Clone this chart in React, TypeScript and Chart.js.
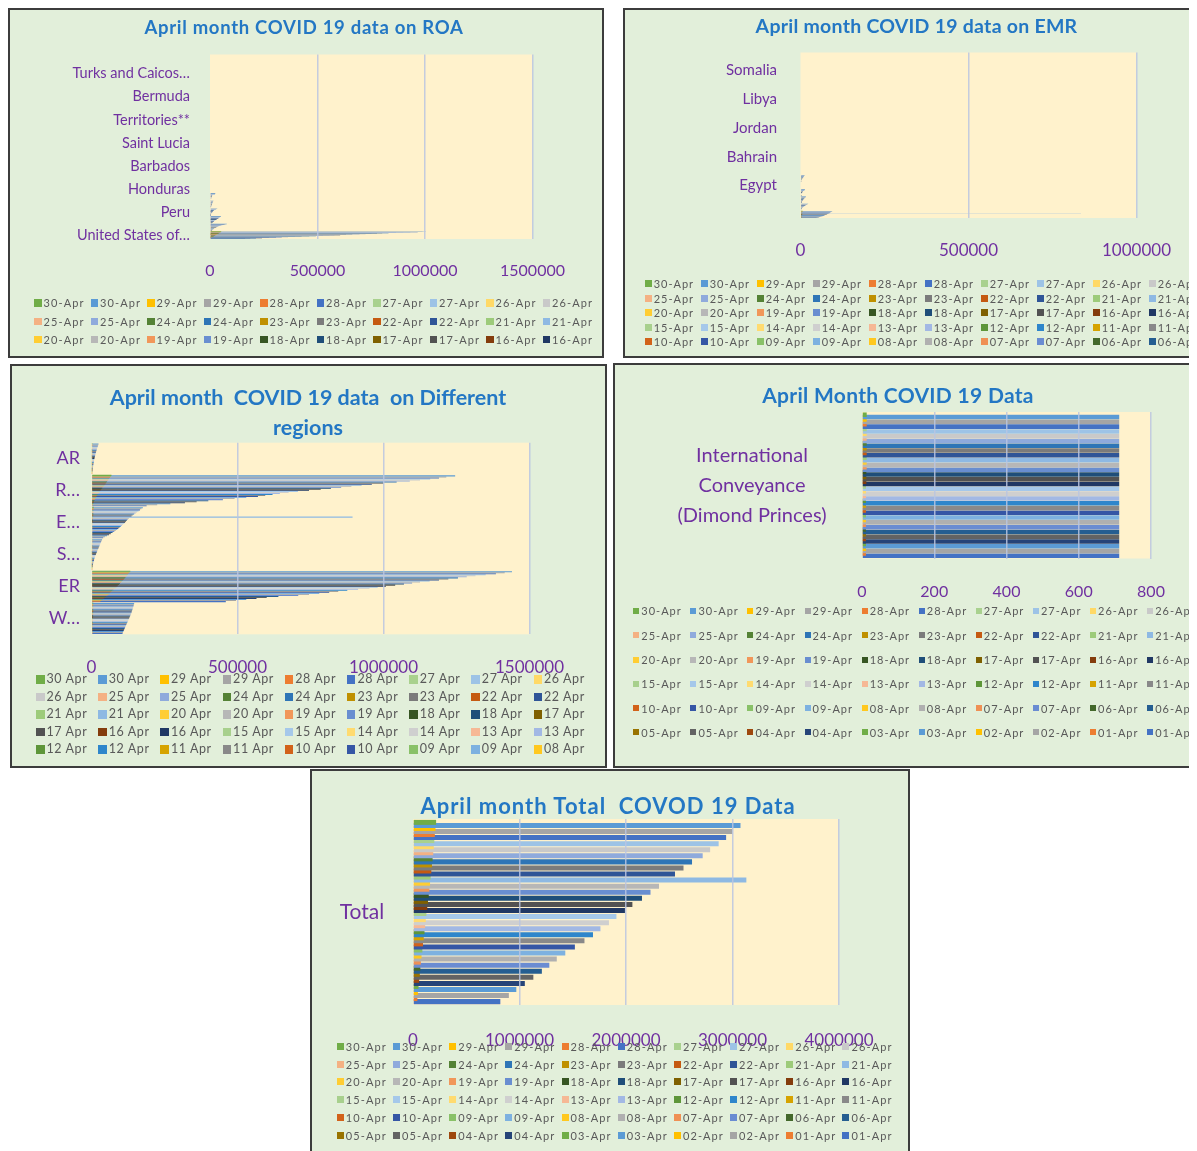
import React, { useEffect, useRef } from "react";
import { Chart, registerables } from "chart.js";

Chart.register(...registerables);

const FONT = "Lato, 'Open Sans', 'DejaVu Sans', sans-serif";
const PURPLE = "#7030a0";
const TITLE_BLUE = "#2377c4";
const PANEL_BG = "#e2efda";
const PLOT_BG = "#fff2cc";
const GRID = "rgba(186,197,224,0.85)";
const LEGEND_TEXT = "#595959";

// ---------- shared ----------
const dates = [
  "30-Apr", "29-Apr", "28-Apr", "27-Apr", "26-Apr", "25-Apr", "24-Apr", "23-Apr", "22-Apr", "21-Apr",
  "20-Apr", "19-Apr", "18-Apr", "17-Apr", "16-Apr", "15-Apr", "14-Apr", "13-Apr", "12-Apr", "11-Apr",
  "10-Apr", "09-Apr", "08-Apr", "07-Apr", "06-Apr", "05-Apr", "04-Apr", "03-Apr", "02-Apr", "01-Apr",
];

const seriesColors = [
  "#70AD47", "#5B9BD5", "#FFC000", "#A5A5A5", "#ED7D31", "#4472C4",
  "#A9D18E", "#9DC3E6", "#FFD966", "#C9C9C9", "#F4B183", "#8FAADC",
  "#548235", "#2E75B6", "#BF9000", "#7B7B7B", "#C55A11", "#2F5597",
  "#9DCB7A", "#8EB9E3", "#FFCD33", "#B7B7B7", "#F1975A", "#698ED0",
  "#375623", "#1F4E79", "#7F6000", "#525252", "#843C0C", "#203864",
  "#A8D08D", "#A5C8EA", "#FFDB70", "#CFCFCF", "#F6B895", "#A2B8E4",
  "#5E9639", "#2E86CB", "#D6A300", "#898989", "#D2621A", "#3556A5",
  "#89C168", "#7DB1E0", "#FFC81F", "#B0B0B0", "#EF9054", "#6A8CD2",
  "#43682B", "#255E91", "#997300", "#636363", "#9E480E", "#264478",
  "#70AD47", "#5B9BD5", "#FFC000", "#A5A5A5", "#ED7D31", "#4472C4",
];

// ---------- chart 1: ROA ----------
const roaCategories = [
  "Anguilla", "British Virgin Islands", "Turks and Caicos Islands", "Curaçao", "Aruba", "Bermuda",
  "Cayman Islands", "Puerto Rico", "Territories**", "Dominica", "Grenada", "Saint Lucia",
  "Trinidad and Tobago", "Jamaica", "Barbados", "Guatemala", "Bolivia", "Honduras",
  "Ecuador", "Chile", "Peru", "Canada", "Brazil", "United States of America",
];
const roaTickLabels = [
  "", "", "Turks and Caicos…", "", "", "Bermuda",
  "", "", "Territories**", "", "", "Saint Lucia",
  "", "", "Barbados", "", "", "Honduras",
  "", "", "Peru", "", "", "United States of…",
];
const roaUsCases = [1003974, 988451, 965933, 931698, 899281, 865585, 830053, 800926, 776907, 751273, 723605, 695353, 661712, 632781, 605390, 579005, 554849, 525704, 492416, 461437, 425889, 395030, 363321, 333811, 307318, 273808, 241703, 213600, 187302, 163199];
const roaUsDeaths = [52459, 50492, 50031, 47980, 46784, 44575, 42514, 40549, 37602, 35884, 34203, 32427, 30844, 28529, 24969, 22252, 21972, 20389, 18777, 16686, 14695, 12740, 10335, 9536, 7616, 7159, 5926, 4854, 3875, 2875];
const roaBrazilCases = [78162, 71886, 66501, 61888, 58509, 52995, 49492, 45757, 43079, 40581, 38654, 36599, 33682, 30425, 28320, 25262, 23430, 20727, 19638, 18397, 17857, 15927, 13717, 12056, 11130, 10278, 8066, 7910, 6836, 5717];
const roaCanadaCases = [51150, 49616, 48033, 46371, 44919, 43286, 40824, 40179, 38422, 36823, 34356, 32813, 30809, 29425, 27035, 25680, 23318, 22148, 20765, 19141, 17897, 16563, 15806, 14426, 13882, 12924, 11283, 9560, 8527, 7398];
const roaPeruCases = [33931, 31190, 28699, 27517, 25331, 21648, 19250, 17837, 16325, 15628, 14420, 13489, 12491, 11475, 10303, 9784, 7519, 6848, 5897, 5256, 4342, 3947, 2954, 2561, 2281, 1746, 1595, 1414, 1323, 1065];
const roaChileCases = [16023, 15135, 14365, 13813, 13331, 12858, 12306, 11812, 11296, 10832, 10507, 10088, 9730, 9252, 8807, 8273, 7917, 7525, 7213, 6927, 6501, 5972, 5546, 5116, 4815, 4471, 3737, 3404, 3031, 2738];
const roaEcuadorCases = [24675, 24258, 23240, 22719, 22160, 22160, 11183, 10850, 10398, 10128, 9468, 9022, 8450, 8225, 7858, 7603, 7529, 7466, 7257, 7161, 6468, 4965, 4575, 3747, 3646, 3465, 3368, 2758, 2302, 2240];

// ---------- chart 2: EMR ----------
const emrCategories = [
  "occupied Palestinian territory", "Territories**", "Somalia", "Yemen", "Syrian Arab Republic", "Sudan",
  "Libya", "Lebanon", "Tunisia", "Djibouti", "Jordan", "Afghanistan", "Iraq", "Oman", "Bahrain",
  "Morocco", "Kuwait", "United Arab Emirates", "Egypt", "Qatar", "Pakistan", "Saudi Arabia",
  "Iran (Islamic Republic of)",
];
const emrTickLabels = [
  "", "", "Somalia", "", "", "", "Libya", "", "", "", "Jordan", "", "", "", "Bahrain",
  "", "", "", "Egypt", "", "", "", "",
];
const emrIranCases = [94640, 93657, 92584, 91472, 90481, 89328, 88194, 87026, 85996, 835050, 83505, 82211, 80868, 79494, 77995, 76389, 74877, 73303, 71686, 70029, 68192, 66220, 64586, 62589, 60500, 58226, 55743, 53183, 50468, 47593];
const emrIranDeaths = [6028, 5957, 5877, 5806, 5710, 5650, 5574, 5481, 5391, 5297, 5209, 5118, 5031, 4958, 4869, 4777, 4683, 4585, 4474, 4357, 4232, 4110, 3993, 3872, 3739, 3603, 3452, 3294, 3160, 3036];
const emrSaudiCases = [22753, 21402, 20077, 18811, 17522, 16299, 15102, 13930, 12772, 11631, 10484, 9362, 8274, 7142, 6380, 5862, 5369, 4934, 4462, 4033, 3651, 3287, 2932, 2752, 2605, 2370, 2179, 2039, 1885, 1720];
const emrPakistanCases = [16117, 15525, 14612, 13915, 13328, 12657, 11940, 11155, 10513, 9749, 9216, 8418, 7993, 7638, 7025, 6505, 6383, 5988, 5374, 4892, 4788, 4601, 4072, 3864, 3766, 3157, 2880, 2708, 2421, 2118];
const emrQatarCases = [13409, 12564, 11921, 11244, 10287, 9358, 8525, 7764, 7141, 6533, 6015, 5448, 5008, 4663, 4103, 3711, 3428, 3231, 2979, 2728, 2512, 2376, 2210, 2057, 1832, 1604, 1325, 1075, 949, 781];
const emrUaeCases = [12481, 11929, 11380, 10839, 10349, 9813, 9281, 8756, 8238, 7755, 7265, 6781, 6302, 5825, 5365, 4933, 4521, 4123, 3736, 3360, 2990, 2659, 2359, 2076, 1799, 1505, 1264, 1024, 814, 664];

// ---------- chart 3: regions ----------
const regCategories = [
  "African Region", "Region of the Americas", "Eastern Mediterranean Region",
  "South-East Asia Region", "European Region", "Western Pacific Region",
];
const regTickLabels = ["AR", "R…", "E…", "S…", "ER", "W…"];
const regAfrCases = [24000, 22900, 21700, 20500, 19300, 18200, 17100, 16000, 15100, 14200, 13300, 12500, 11700, 10900, 10100, 9400, 8700, 8100, 7500, 6900, 6300, 5800, 5300, 4800, 4400, 4000, 3600, 3300, 3000, 2700];
const regAfrDeaths = [1027, 981, 944, 893, 852, 806, 768, 721, 683, 641, 598, 563, 517, 482, 441, 404, 362, 325, 287, 253, 221, 194, 168, 149, 131, 112, 96, 83, 71, 60];
const regAmrCases = [1245354, 1215000, 1190000, 1160000, 1125000, 1090000, 1045000, 1000000, 960000, 925000, 890000, 855000, 820000, 785000, 745000, 707000, 675000, 645000, 620000, 595000, 570000, 530000, 490000, 450000, 400000, 360000, 320000, 270000, 225000, 188751];
const regAmrDeaths = [68329, 66000, 63500, 60500, 58600, 56500, 53400, 51000, 48600, 45300, 42500, 40000, 37300, 34700, 32000, 29100, 26400, 24000, 21400, 19000, 17000, 15000, 13300, 11700, 10400, 8700, 7400, 6100, 4900, 3700];
const regEmrCases = [176000, 171000, 166000, 161000, 156000, 151000, 146000, 141000, 137000, 894000, 128000, 124000, 121000, 118000, 115000, 112000, 108000, 104000, 100000, 96000, 92000, 88000, 83000, 78000, 72000, 66000, 60000, 53000, 46000, 40000];
const regEmrDeaths = [7350, 7180, 7010, 6840, 6660, 6470, 6290, 6100, 5910, 5700, 5500, 5290, 5080, 4870, 4660, 4440, 4230, 4010, 3800, 3590, 3390, 3190, 3000, 2820, 2650, 2500, 2340, 2190, 2050, 1920];
const regSearCases = [36200, 34700, 32900, 31400, 29700, 28400, 26700, 25200, 23900, 22100, 20900, 19200, 17900, 16300, 15100, 13500, 12400, 11000, 10100, 8900, 8200, 7100, 6400, 5500, 4900, 4200, 3800, 3200, 2900, 2400];
const regSearDeaths = [1870, 1800, 1720, 1630, 1550, 1470, 1390, 1300, 1220, 1140, 1060, 980, 900, 820, 750, 680, 610, 540, 480, 420, 370, 330, 290, 250, 220, 200, 185, 170, 160, 150];
const regEurCases = [1440000, 1415000, 1385000, 1350000, 1315000, 1285000, 1255000, 1222000, 1190000, 1158000, 1125000, 1098000, 1070000, 1040000, 1008000, 980000, 952000, 913000, 876000, 845000, 814000, 780000, 745000, 708000, 640000, 600000, 565000, 530000, 495000, 460000];
const regEurDeaths = [132917, 130000, 127000, 124500, 122000, 119500, 116200, 113300, 110300, 107000, 103500, 100500, 97500, 94000, 90000, 86000, 82000, 78500, 75000, 70300, 66000, 62500, 58500, 55000, 50000, 46000, 42000, 38000, 34000, 30100];
const regWprCases = [146000, 145000, 144100, 143000, 142000, 141000, 140000, 138800, 137500, 136200, 135000, 133600, 132100, 130500, 129000, 127600, 126000, 124400, 122700, 121000, 119500, 118000, 116500, 115000, 113500, 112000, 110500, 109000, 107500, 106400];
const regWprDeaths = [6008, 5989, 5951, 5912, 5883, 5836, 5791, 5748, 5695, 5633, 5571, 5512, 5425, 5327, 5233, 5137, 5048, 4932, 4845, 4711, 4600, 4498, 4388, 4253, 4117, 3976, 3920, 3846, 3784, 3701];

// ---------- chart 4: international conveyance ----------
const intlCategories = ["International Conveyance (Dimond Princes)"];
const intlTickLabels = [["International", "Conveyance", "(Dimond Princes)"]];
const intlCases = [712, 712, 712, 712, 712, 712, 712, 712, 712, 712, 712, 712, 712, 712, 712, 712, 712, 712, 712, 712, 712, 712, 712, 712, 712, 712, 712, 712, 712, 712];
const intlDeaths = [13, 13, 13, 13, 13, 13, 13, 13, 13, 13, 13, 13, 12, 12, 12, 11, 11, 11, 11, 11, 11, 11, 11, 11, 11, 11, 11, 11, 11, 11];

// ---------- chart 5: total ----------
const totalCategories = ["Total"];
const totalTickLabels = ["Total"];
const totalCases = [3075000, 3000000, 2940000, 2870000, 2790000, 2720000, 2620000, 2540000, 2460000, 3130000, 2310000, 2230000, 2150000, 2060000, 1990000, 1910000, 1840000, 1760000, 1690000, 1610000, 1520000, 1430000, 1350000, 1280000, 1210000, 1130000, 1050000, 970000, 900000, 820000];
const totalDeaths = [217000, 211000, 205000, 200000, 195000, 190000, 184000, 178000, 172000, 166000, 160000, 154000, 148000, 141000, 134000, 126000, 120000, 114000, 108000, 101000, 94000, 88000, 80000, 74000, 69000, 64000, 58000, 52000, 46000, 41000];

type Series = { cases?: number[]; deaths?: number[] };
type Table = Record<string, Series>;

const roaTable: Table = {
  "United States of America": { cases: roaUsCases, deaths: roaUsDeaths },
  Brazil: { cases: roaBrazilCases },
  Canada: { cases: roaCanadaCases },
  Peru: { cases: roaPeruCases },
  Chile: { cases: roaChileCases },
  Ecuador: { cases: roaEcuadorCases },
};
const emrTable: Table = {
  "Iran (Islamic Republic of)": { cases: emrIranCases, deaths: emrIranDeaths },
  "Saudi Arabia": { cases: emrSaudiCases },
  Pakistan: { cases: emrPakistanCases },
  Qatar: { cases: emrQatarCases },
  "United Arab Emirates": { cases: emrUaeCases },
};
const regTable: Table = {
  "African Region": { cases: regAfrCases, deaths: regAfrDeaths },
  "Region of the Americas": { cases: regAmrCases, deaths: regAmrDeaths },
  "Eastern Mediterranean Region": { cases: regEmrCases, deaths: regEmrDeaths },
  "South-East Asia Region": { cases: regSearCases, deaths: regSearDeaths },
  "European Region": { cases: regEurCases, deaths: regEurDeaths },
  "Western Pacific Region": { cases: regWprCases, deaths: regWprDeaths },
};
const intlTable: Table = { [intlCategories[0]]: { cases: intlCases, deaths: intlDeaths } };
const totalTable: Table = { Total: { cases: totalCases, deaths: totalDeaths } };

interface PanelSpec {
  box: { left: number; top: number; width: number; height: number };
  title: { lines: string[]; cx: number; cy: number; size: number; gap: number; spacing: number };
  categories: string[];
  table: Table;
  tickLabels: (string | string[])[];
  dateFormat: (d: string) => string;
  xMax: number;
  xStep: number;
  plot: { left: number; top: number; right: number; bottom: number };
  xFont: number;
  xPad: number;
  yFont: number;
  yPad?: number;
  yCenterX?: number;
  yLineHeight?: number;
  barPct: number;
  catPct: number;
  legend: { count: number; cols: number; left: number; cy: number; colW: number; rowH: number; marker: number; font: number; spacing: number };
}

const dash = (d: string) => d;
const spaced = (d: string) => d.replace("-", " ");

const panels: PanelSpec[] = [
  {
    box: { left: 0, top: 0, width: 596, height: 350 },
    title: { lines: ["April month COVID 19 data on ROA"], cx: 294, cy: 18, size: 18.5, gap: 0, spacing: 0.7 },
    categories: roaCategories, table: roaTable, tickLabels: roaTickLabels, dateFormat: dash,
    xMax: 1500000, xStep: 500000,
    plot: { left: 200, top: 44.5, right: 522.5, bottom: 229 },
    xFont: 16, xPad: 22, yFont: 14.5, yPad: 20, barPct: 3, catPct: 0.96,
    legend: { count: 30, cols: 10, left: 24, cy: 293, colW: 56.5, rowH: 18.35, marker: 7.5, font: 11, spacing: 1.1 },
  },
  {
    box: { left: 615, top: 0, width: 600, height: 350 },
    title: { lines: ["April month COVID 19 data on EMR"], cx: 291.5, cy: 16.7, size: 19.5, gap: 0, spacing: 0.25 },
    categories: emrCategories, table: emrTable, tickLabels: emrTickLabels, dateFormat: dash,
    xMax: 1000000, xStep: 500000,
    plot: { left: 175.5, top: 42.5, right: 511.5, bottom: 208 },
    xFont: 17, xPad: 22.5, yFont: 15, yPad: 23.5, barPct: 3, catPct: 0.96,
    legend: { count: 50, cols: 10, left: 19.7, cy: 274, colW: 56, rowH: 14.4, marker: 7, font: 11, spacing: 1 },
  },
  {
    box: { left: 2, top: 356, width: 597, height: 404 },
    title: { lines: ["April month  COVID 19 data  on Different", "regions"], cx: 296, cy: 32, size: 21.5, gap: 30, spacing: 0 },
    categories: regCategories, table: regTable, tickLabels: regTickLabels, dateFormat: spaced,
    xMax: 1500000, xStep: 500000,
    plot: { left: 79.5, top: 76.7, right: 517.5, bottom: 268.3 },
    xFont: 17, xPad: 23.5, yFont: 18, yPad: 11.5, barPct: 2, catPct: 0.97,
    legend: { count: 45, cols: 9, left: 24, cy: 313.3, colW: 62.2, rowH: 17.5, marker: 8.5, font: 12.5, spacing: 0.6 },
  },
  {
    box: { left: 605, top: 355, width: 600, height: 405 },
    title: { lines: ["April Month COVID 19 Data"], cx: 283, cy: 30, size: 21, gap: 0, spacing: 0.3 },
    categories: intlCategories, table: intlTable, tickLabels: intlTickLabels, dateFormat: dash,
    xMax: 800, xStep: 200,
    plot: { left: 247, top: 47, right: 536, bottom: 193.5 },
    xFont: 16, xPad: 24, yFont: 20, yCenterX: 137, yLineHeight: 1.5, barPct: 1.9, catPct: 0.98,
    legend: { count: 60, cols: 10, left: 18.3, cy: 246, colW: 57.1, rowH: 24.3, marker: 6, font: 11, spacing: 1 },
  },
  {
    box: { left: 302, top: 761, width: 600, height: 400 },
    title: { lines: ["April month Total  COVOD 19 Data"], cx: 296, cy: 35.7, size: 22, gap: 0, spacing: 1 },
    categories: totalCategories, table: totalTable, tickLabels: totalTickLabels, dateFormat: dash,
    xMax: 4000000, xStep: 1000000,
    plot: { left: 101, top: 48, right: 527, bottom: 234 },
    xFont: 17, xPad: 25, yFont: 21, yCenterX: 50, barPct: 1.65, catPct: 0.98,
    legend: { count: 60, cols: 10, left: 24.8, cy: 275.3, colW: 56.2, rowH: 17.8, marker: 7, font: 11, spacing: 1.1 },
  },
];

function buildDatasets(spec: PanelSpec) {
  const out: any[] = [];
  dates.forEach((d, k) => {
    (["deaths", "cases"] as const).forEach((s, j) => {
      out.push({
        label: spec.dateFormat(d),
        data: spec.categories.map((c) => {
          const arr = spec.table[c]?.[s];
          return arr ? arr[k] : null;
        }),
        backgroundColor: seriesColors[k * 2 + j],
        borderWidth: 0,
        barPercentage: spec.barPct,
        categoryPercentage: spec.catPct,
      });
    });
  });
  return out;
}

const plotBackground = {
  id: "plotBackground",
  beforeDraw(chart: any) {
    const { ctx, chartArea } = chart;
    if (!chartArea) return;
    ctx.save();
    ctx.fillStyle = PLOT_BG;
    ctx.fillRect(chartArea.left, chartArea.top, chartArea.right - chartArea.left, chartArea.bottom - chartArea.top);
    ctx.restore();
  },
};

function widestLabel(labels: (string | string[])[], size: number): number {
  const ctx = document.createElement("canvas").getContext("2d")!;
  ctx.font = `${size}px ${FONT}`;
  let w = 0;
  labels.forEach((l) => (Array.isArray(l) ? l : [l]).forEach((t) => (w = Math.max(w, ctx.measureText(t).width))));
  return w;
}

function Panel({ spec }: { spec: PanelSpec }) {
  const ref = useRef<HTMLCanvasElement>(null);
  const innerW = spec.box.width - 4;
  const innerH = spec.box.height - 4;
  const datasets = buildDatasets(spec);
  const legendItems = datasets.slice(0, spec.legend.count).map((d) => ({ label: d.label, color: d.backgroundColor }));

  useEffect(() => {
    const centered = spec.yCenterX !== undefined;
    const yPad = centered
      ? spec.plot.left - (spec.yCenterX as number) - widestLabel(spec.tickLabels, spec.yFont) / 2
      : (spec.yPad as number);
    const chart = new Chart(ref.current as HTMLCanvasElement, {
      type: "bar",
      data: { labels: spec.categories, datasets: buildDatasets(spec) },
      plugins: [plotBackground],
      options: {
        indexAxis: "y",
        animation: false,
        responsive: false,
        devicePixelRatio: 1,
        events: [],
        layout: { padding: { top: spec.plot.top, right: innerW - spec.plot.right, bottom: 0, left: 0 } },
        plugins: { legend: { display: false }, title: { display: false }, tooltip: { enabled: false } },
        scales: {
          x: {
            type: "linear",
            min: 0,
            max: spec.xMax,
            ticks: {
              stepSize: spec.xStep,
              color: PURPLE,
              font: { family: FONT, size: spec.xFont },
              padding: spec.xPad,
              maxRotation: 0,
              autoSkip: false,
              callback: (v: any) => String(v),
            },
            grid: {
              color: (c: any) => (c.tick && c.tick.value === 0 ? "rgba(0,0,0,0)" : GRID),
              lineWidth: 1.5,
              drawTicks: false,
              z: 1,
            },
            border: { display: false },
            afterFit: (s: any) => {
              s.height = innerH - spec.plot.bottom;
              s.paddingLeft = 0;
              s.paddingRight = 0;
            },
          },
          y: {
            type: "category",
            ticks: {
              autoSkip: false,
              color: PURPLE,
              font: { family: FONT, size: spec.yFont, lineHeight: spec.yLineHeight ?? 1.2 },
              padding: yPad,
              crossAlign: centered ? "center" : "near",
              callback: (_v: any, i: number) => spec.tickLabels[i],
            },
            grid: { display: false, drawTicks: false },
            border: { display: false },
            afterFit: (s: any) => {
              s.width = spec.plot.left;
              s.paddingTop = 0;
              s.paddingBottom = 0;
            },
          },
        },
      } as any,
    });
    return () => chart.destroy();
  }, [spec]);

  const L = spec.legend;
  return (
    <div
      style={{
        position: "absolute",
        left: spec.box.left,
        top: spec.box.top,
        width: spec.box.width,
        height: spec.box.height,
        boxSizing: "border-box",
        border: "2px solid #3c3c3c",
        background: PANEL_BG,
        overflow: "hidden",
      }}
    >
      <canvas
        ref={ref}
        width={innerW}
        height={innerH}
        style={{ position: "absolute", left: 0, top: 0, width: innerW, height: innerH }}
      />
      {spec.title.lines.map((line, i) => (
        <div
          key={i}
          style={{
            position: "absolute",
            left: spec.title.cx - 300,
            width: 600,
            top: spec.title.cy + i * spec.title.gap - spec.title.size * 0.627,
            textAlign: "center",
            font: `700 ${spec.title.size}px ${FONT}`,
            letterSpacing: spec.title.spacing,
            lineHeight: 1.2,
            color: TITLE_BLUE,
            whiteSpace: "pre",
          }}
        >
          {line}
        </div>
      ))}
      <div
        style={{
          position: "absolute",
          left: L.left,
          top: L.cy - L.rowH / 2,
          display: "grid",
          gridTemplateColumns: `repeat(${L.cols}, ${L.colW}px)`,
          gridAutoRows: `${L.rowH}px`,
          alignItems: "center",
        }}
      >
        {legendItems.map((it, i) => (
          <div key={i} style={{ display: "flex", alignItems: "center", whiteSpace: "nowrap" }}>
            <span style={{ width: L.marker, height: L.marker, background: it.color, marginRight: 2, flex: "none" }} />
            <span style={{ font: `${L.font}px ${FONT}`, letterSpacing: L.spacing, color: LEGEND_TEXT, lineHeight: 1 }}>
              {it.label}
            </span>
          </div>
        ))}
      </div>
    </div>
  );
}

export default function App() {
  useEffect(() => {
    document.documentElement.style.overflow = "hidden";
    document.body.style.overflow = "hidden";
  }, []);
  return (
    <div style={{ position: "relative", width: 1189, height: 1143, overflow: "hidden", background: "#ffffff" }}>
      {panels.map((p, i) => (
        <Panel key={i} spec={p} />
      ))}
    </div>
  );
}
